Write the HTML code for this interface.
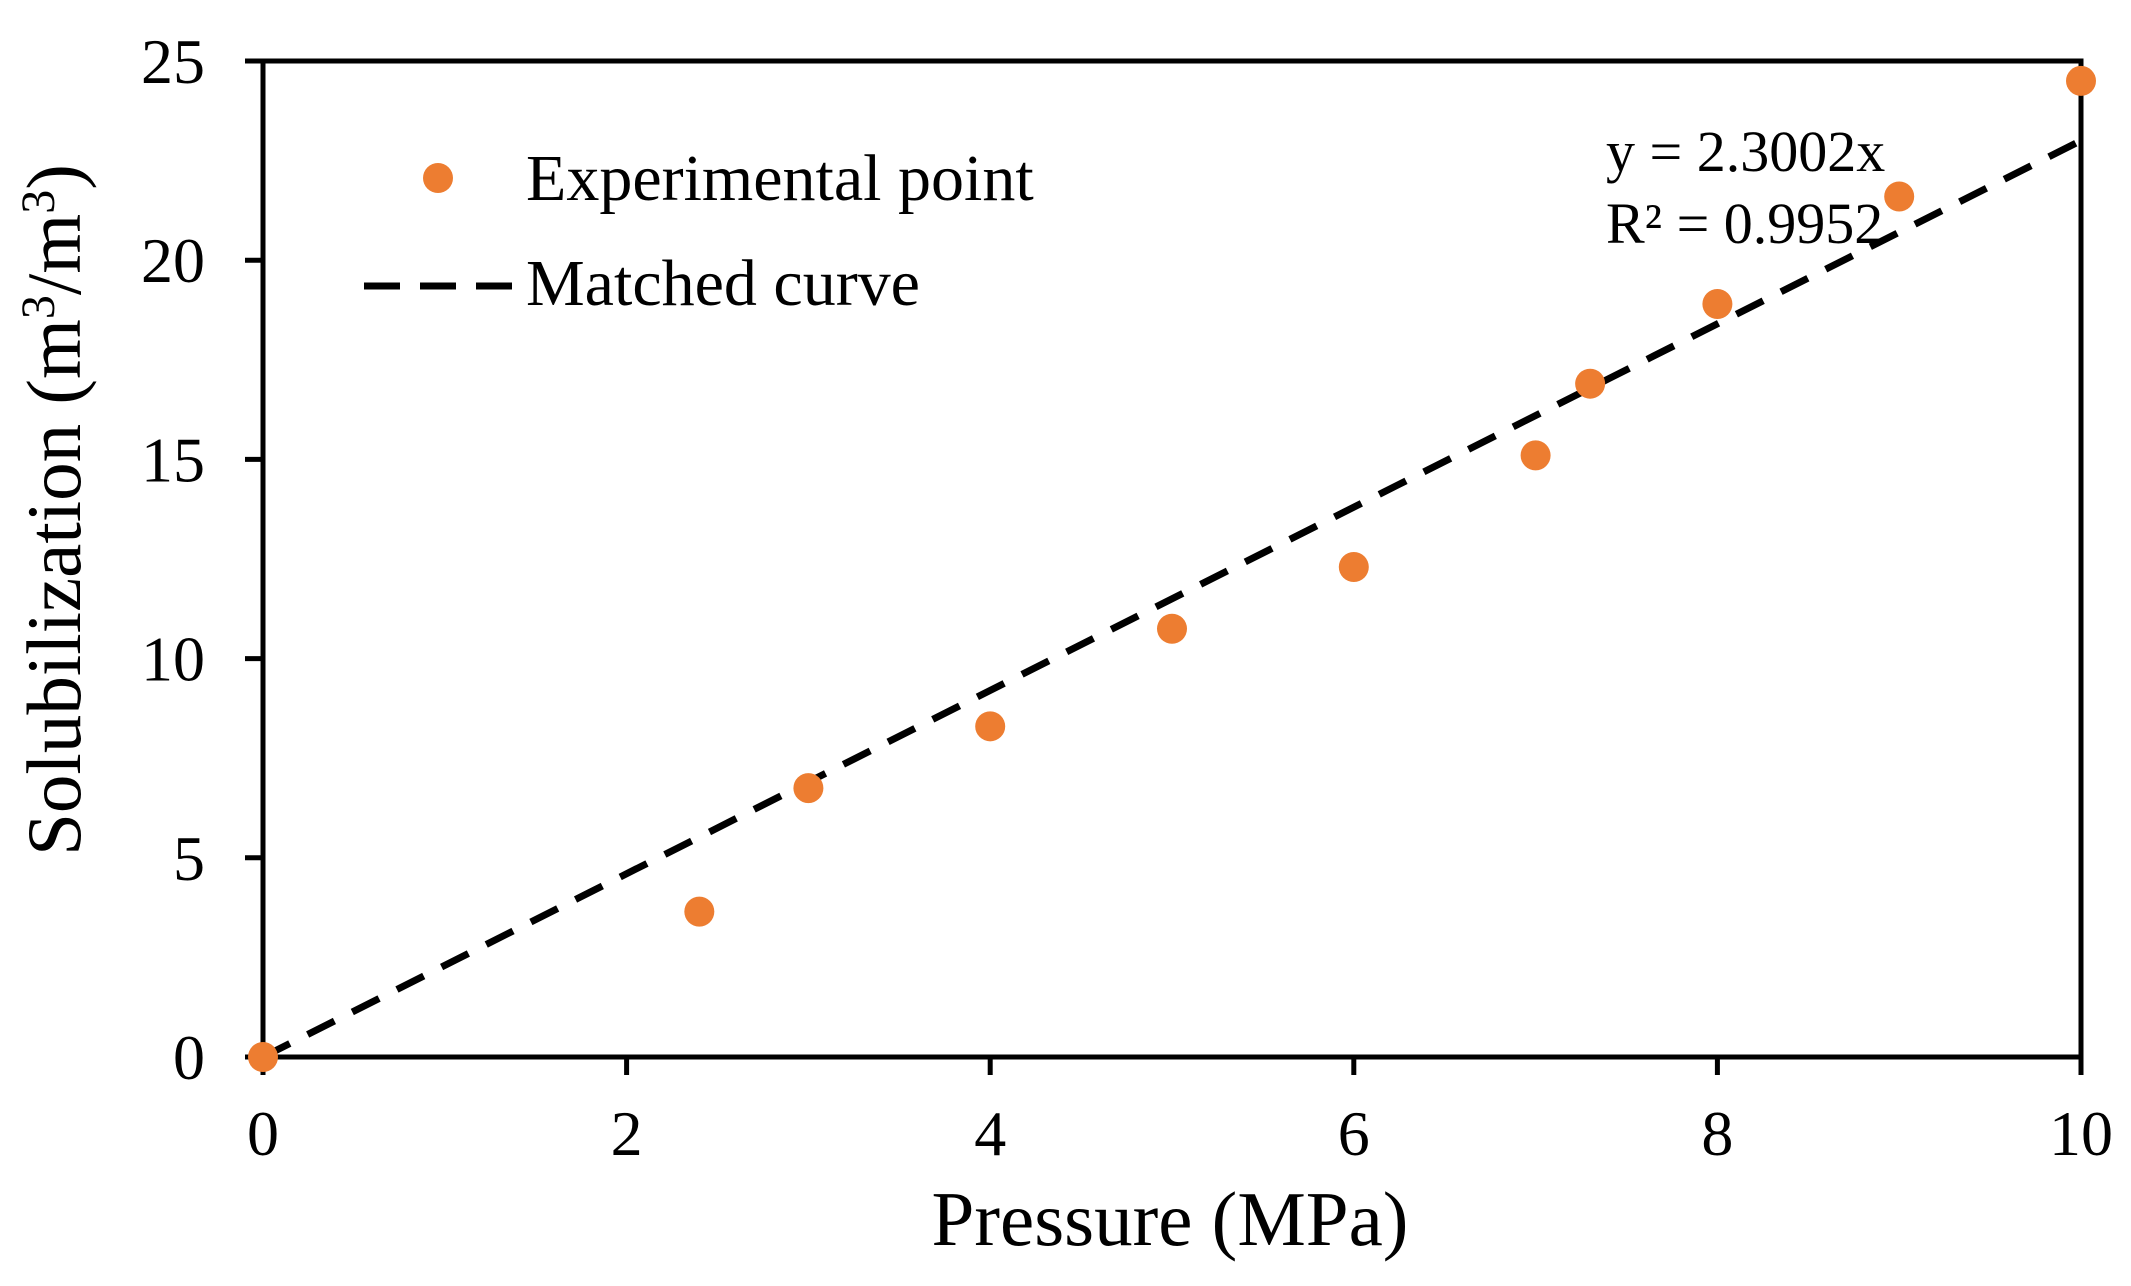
<!DOCTYPE html>
<html><head><meta charset="utf-8"><style>
html,body{margin:0;padding:0;background:#fff;}
svg{display:block;font-family:"Liberation Serif","Times New Roman",serif;}
</style></head><body>
<svg id="chart" width="2131" height="1286" viewBox="0 0 2131 1286">
<g id="plot"></g>
</svg>
<script>
const xTicks=[0,2,4,6,8,10];
const yTicks=[0,5,10,15,20,25];
const pressure=[0,2.4,3,4,5,6,7,7.3,8,9,10];
const solubilization=[0,3.65,6.75,8.3,10.75,12.3,15.1,16.9,18.9,21.6,24.5];
const fitSlope=[2.3002];
const fitRange=[0,10];

const L=263,R=2081,T=61,B=1057;
const xs=v=>L+(v-0)/(10-0)*(R-L);
const ys=v=>B-(v-0)/(25-0)*(B-T);
const NS='http://www.w3.org/2000/svg';
const svg=document.getElementById('chart');
function mk(tag,attrs,parent,text){const e=document.createElementNS(NS,tag);for(const k in attrs)e.setAttribute(k,attrs[k]);if(text!==undefined)e.textContent=text;(parent||svg).appendChild(e);return e;}

// fitted line
const fl=mk('line',{x1:xs(fitRange[0]),y1:ys(fitSlope[0]*fitRange[0]),x2:xs(fitRange[1]),y2:ys(fitSlope[0]*fitRange[1]),stroke:'#000','stroke-width':7,'stroke-dasharray':'30 20'});



// frame
const fr=mk('rect',{x:L,y:T,width:R-L,height:B-T,fill:'none',stroke:'#000','stroke-width':5});



xTicks.forEach(v=>{
  const t=mk('line',{x1:xs(v),y1:B,x2:xs(v),y2:B+18,stroke:'#000','stroke-width':5});
  
  
  const lb=mk('text',{x:xs(v),y:1155,'font-size':64,'text-anchor':'middle'},svg,String(v));
  
  
});
yTicks.forEach(v=>{
  const t=mk('line',{x1:L-18,y1:ys(v),x2:L,y2:ys(v),stroke:'#000','stroke-width':5});
  
  
  const lb=mk('text',{x:205,y:ys(v)+22,'font-size':64,'text-anchor':'end'},svg,String(v));
  
  
});

// points
pressure.forEach((p,i)=>{
  const c=mk('circle',{cx:xs(p),cy:ys(solubilization[i]),r:15,fill:'#ED7D31'});
  
  
});
</script>
<svg style="position:absolute;left:0;top:0" width="2131" height="1286">
<text x="1170" y="1245" font-size="77" text-anchor="middle" font-family="Liberation Serif, serif">Pressure (MPa)</text>
<text transform="translate(80,510) rotate(-90)" font-size="77" text-anchor="middle" font-family="Liberation Serif, serif">Solubilization (m<tspan dy="-26" font-size="48">3</tspan><tspan dy="26">/m</tspan><tspan dy="-26" font-size="48">3</tspan><tspan dy="26">)</tspan></text>
<circle cx="438" cy="178" r="15" fill="#ED7D31"/>
<text x="526" y="200" font-size="66" font-family="Liberation Serif, serif">Experimental point</text>
<line x1="364" y1="286" x2="512" y2="286" stroke="#000" stroke-width="7" stroke-dasharray="36 20"/>
<text x="526" y="305" font-size="66" font-family="Liberation Serif, serif">Matched curve</text>
<text x="1606" y="171" font-size="58" font-family="Liberation Serif, serif">y = 2.3002x</text>
<text x="1606" y="243" font-size="58" font-family="Liberation Serif, serif">R² = 0.9952</text>
</svg>
</body></html>
